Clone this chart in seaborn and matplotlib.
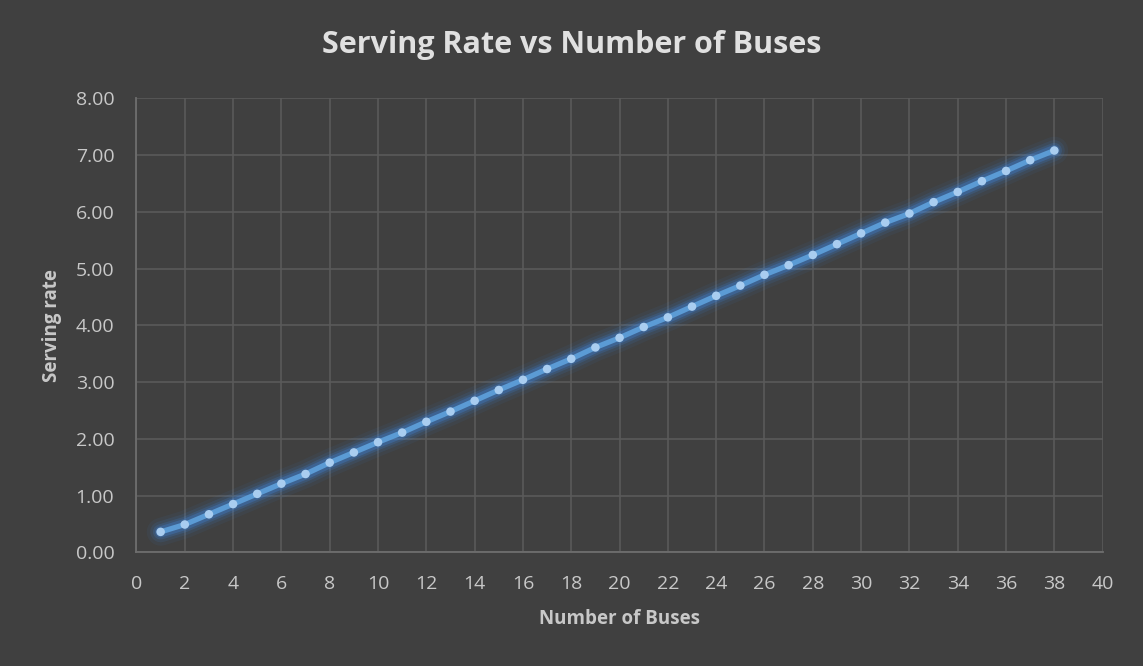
import matplotlib
matplotlib.use("Agg")
import matplotlib.pyplot as plt
import numpy as np
import pandas as pd
import seaborn as sns

# Serving rate measured for each fleet size
buses = list(range(1, 39))
serving_rate = [0.36, 0.49, 0.67, 0.85, 1.03, 1.21, 1.38, 1.58, 1.76, 1.94,
                2.11, 2.30, 2.48, 2.67, 2.86, 3.04, 3.23, 3.41, 3.61, 3.78,
                3.97, 4.14, 4.33, 4.52, 4.70, 4.89, 5.06, 5.24, 5.43, 5.62,
                5.81, 5.97, 6.17, 6.35, 6.54, 6.72, 6.91, 7.08]
x_ticks = list(range(0, 41, 2))
y_ticks = [0, 1, 2, 3, 4, 5, 6, 7, 8]

df = pd.DataFrame({"buses": buses, "rate": serving_rate})

BG = "#404040"
GRID = "#5a5a5a"
TEXT = "#c8c8c8"
TITLE = "#e0e0e0"
LINE = "#5b9bd5"

sns.set_theme(style="darkgrid")
plt.rcParams["font.family"] = ["Open Sans", "DejaVu Sans"]

fig = plt.figure(figsize=(11.43, 6.66), dpi=100, facecolor=BG)
ax = fig.add_axes([0.1194, 0.1707, 0.8453, 0.6817])
ax.set_facecolor(BG)

# soft glow around the series
for lw, a in [(20, 0.06), (15, 0.10), (11, 0.16), (8, 0.26)]:
    sns.lineplot(data=df, x="buses", y="rate", ax=ax, color="#3d8ef0",
                 linewidth=lw, alpha=a, solid_capstyle="round", zorder=3)
sns.lineplot(data=df, x="buses", y="rate", ax=ax, color=LINE,
             linewidth=3.8, solid_capstyle="round", zorder=4)
sns.scatterplot(data=df, x="buses", y="rate", ax=ax, color="#a9cdf0",
                s=38, edgecolor="none", zorder=5)

ax.set_xlim(0, 40)
ax.set_ylim(0, 8)
ax.set_xticks(x_ticks)
ax.set_yticks(y_ticks)
ax.set_yticklabels([f"{v:.2f}" for v in y_ticks])
ax.grid(True, color=GRID, linewidth=1.2)
ax.tick_params(axis="both", colors=TEXT, labelsize=14, length=0)
ax.tick_params(axis="x", pad=16)
ax.tick_params(axis="y", pad=16)

for side in ["top", "right"]:
    ax.spines[side].set_visible(False)
for side in ["left", "bottom"]:
    ax.spines[side].set_visible(True)
    ax.spines[side].set_color("#6e6e6e")
    ax.spines[side].set_linewidth(1.3)

ax.set_xlabel("Number of Buses", color=TEXT, fontsize=13.5,
              fontweight="bold", labelpad=12)
ax.set_ylabel("Serving rate", color=TEXT, fontsize=13.5,
              fontweight="bold", labelpad=10)

fig.text(0.5, 0.932, "Serving Rate vs Number of Buses", ha="center",
         va="center", color=TITLE, fontsize=22, fontweight="bold")

fig.savefig("out.png", dpi=100, facecolor=BG)
